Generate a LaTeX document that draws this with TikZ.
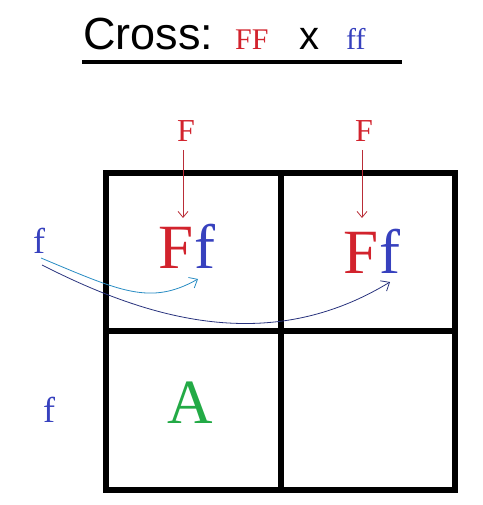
\documentclass[tikz,border=0pt]{standalone}
\usepackage{fontspec}
\setmainfont{Liberation Serif}
\newfontfamily\titlefont{Liberation Sans}
\usetikzlibrary{arrows.meta}
\definecolor{gred}{RGB}{210,35,45}
\definecolor{gblue}{RGB}{55,65,190}
\definecolor{ggreen}{RGB}{35,170,70}
\definecolor{gteal}{RGB}{40,140,195}
\definecolor{gnavy}{RGB}{40,50,125}
\definecolor{arrred}{RGB}{185,45,55}
\tikzset{
  lbl/.style={inner sep=0pt, anchor=base},
  grid/.style={line width=6pt, line cap=rect},
  redarrow/.style={draw=arrred, line width=0.8pt, -{Straight Barb[length=6pt,width=10pt]}},
  curvearrow/.style={line width=0.8pt, -{Straight Barb[length=7pt,width=12pt]}}
}
\begin{document}
\begin{tikzpicture}[x=1pt,y=-1pt]
\useasboundingbox (0,0) rectangle (482,505);
% title
\node[lbl, anchor=base west] (cross) at (83,50) {\titlefont\fontsize{45}{50}\selectfont Cross:};
\node[lbl, anchor=base west, text=gred] (ff1) at (235,50) {\fontsize{30}{34}\selectfont FF};
\node[lbl, anchor=base west] (xx) at (299,50) {\titlefont\fontsize{40}{44}\selectfont x};
\node[lbl, anchor=base west, text=gblue] (ff2) at (346,50) {\fontsize{30}{34}\selectfont ff};
\draw[line width=4pt] (82,62) -- (402,62);
% grid
\draw[grid] (106,173) rectangle (455,490);
\draw[grid] (281,173) -- (281,490);
\draw[grid] (106,331) -- (455,331);
% column labels
\node[lbl, text=gred] (fa) at (186,142) {\fontsize{32}{35}\selectfont F};
\node[lbl, text=gred] (fb) at (364,142) {\fontsize{32}{35}\selectfont F};
% row labels
\node[lbl, text=gblue] (la) at (39,253) {\fontsize{36}{40}\selectfont f};
\node[lbl, text=gblue] (lb) at (49,422) {\fontsize{36}{40}\selectfont f};
% cells
\node[lbl] (c1) at (187,268) {\fontsize{63}{70}\selectfont\textcolor{gred}{F}\textcolor{gblue}{f}};
\node[lbl] (c2) at (372,273) {\fontsize{63}{70}\selectfont\textcolor{gred}{F}\textcolor{gblue}{f}};
\node[lbl, text=ggreen] (c3) at (190,423) {\fontsize{63}{70}\selectfont A};
% red arrows
\coordinate (ta) at (183,218);
\coordinate (tb) at (362,218);
\draw[redarrow] (183,150) -- (ta);
\draw[redarrow] (362,150) -- (tb);
% curved arrows
\coordinate (t1) at (198,279);
\coordinate (t2) at (390,282);
\draw[curvearrow, gteal] (41,258) .. controls (120,291) and (150,306) .. (t1);
\draw[curvearrow, gnavy] (42,265) .. controls (150,320) and (270,355) .. (t2);
\end{tikzpicture}
\end{document}
